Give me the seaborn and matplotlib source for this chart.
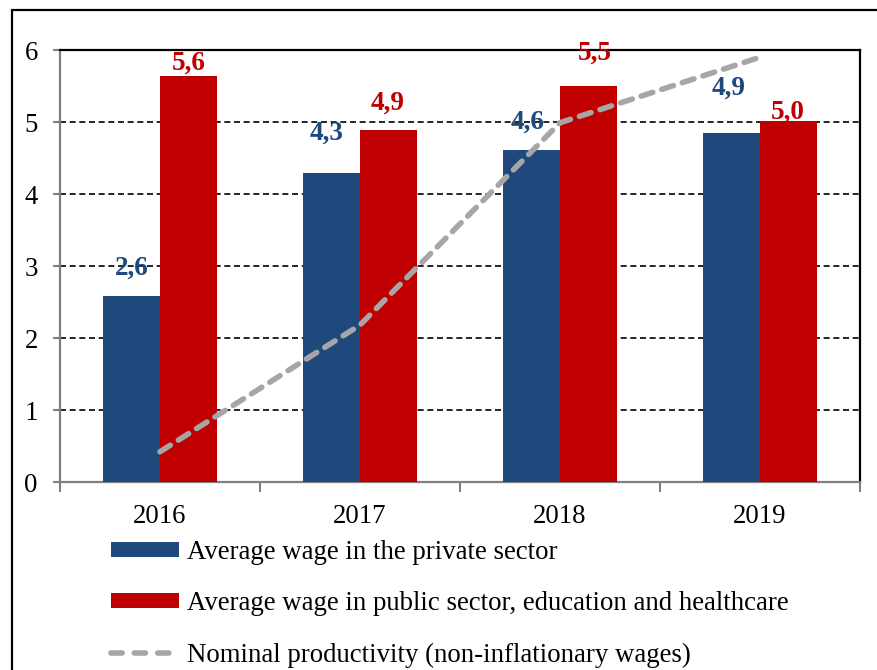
import numpy as np
import pandas as pd
import matplotlib
matplotlib.use("Agg")
import matplotlib.pyplot as plt
from matplotlib.lines import Line2D
from matplotlib.patches import Patch
import seaborn as sns

# ---- data ----
years = ["2016", "2017", "2018", "2019"]
private_wage = [2.58, 4.29, 4.61, 4.85]
public_wage = [5.64, 4.89, 5.50, 5.01]
productivity = [0.42, 2.18, 4.99, 5.90]
private_labels = ["2,6", "4,3", "4,6", "4,9"]
public_labels = ["5,6", "4,9", "5,5", "5,0"]
series_names = ["Average wage in the private sector",
                "Average wage in public sector, education and healthcare",
                "Nominal productivity (non-inflationary wages)"]
y_ticks = [0, 1, 2, 3, 4, 5, 6]

# ---- style ----
BLUE = "#1F497D"
RED = "#C00000"
GRAY = "#A6A6A6"
SPINE_GRAY = "#808080"
FONT = ["Liberation Serif", "DejaVu Serif"]
FS = 19.3

sns.set_theme(style="white")
plt.rcParams["font.family"] = FONT
plt.rcParams["text.color"] = "black"

df = pd.DataFrame({
    "year": years * 2,
    "value": private_wage + public_wage,
    "series": [series_names[0]] * 4 + [series_names[1]] * 4,
})

fig = plt.figure(figsize=(8.77, 6.70), dpi=100)
ax = fig.add_axes([60 / 877, 1 - 482 / 670, 800 / 877, 432 / 670])

sns.barplot(data=df, x="year", y="value", hue="series", palette=[BLUE, RED],
            width=0.57, dodge=True, ax=ax, linewidth=0, saturation=1, zorder=3,
            legend=False)

sns.lineplot(x=np.arange(len(years)), y=productivity, ax=ax, color=GRAY,
             linewidth=4.0, linestyle=(0, (2.2, 1.7)), dash_capstyle="round",
             zorder=5, legend=False)
if ax.get_legend() is not None:
    ax.get_legend().remove()

# value labels (manual offsets like the source)
private_off = [(0, 28), (-5, 40), (-4, 28), (-3, 45)]
public_off = [(0, 13), (-1, 27), (6, 33), (-1, 9)]
for cont, labels, offs, col in zip(ax.containers[:2], [private_labels, public_labels],
                                   [private_off, public_off], [BLUE, RED]):
    for bar, lab, (dx, dy) in zip(cont, labels, offs):
        ax.annotate(lab, xy=(bar.get_x() + bar.get_width() / 2, bar.get_height()),
                    xytext=(dx, dy), textcoords="offset pixels",
                    ha="center", va="center", fontsize=19.5, fontweight="bold",
                    color=col, family=FONT, zorder=6)

ax.set_xlim(-0.5, len(years) - 0.5)
ax.set_ylim(0, 6)
ax.set_yticks(y_ticks)
ax.set_yticklabels([str(t) for t in y_ticks])
ax.set_xlabel("")
ax.set_ylabel("")

# x ticks: boundaries as major (no labels), labels at centers as minor
ax.set_xticks(np.arange(len(years) + 1) - 0.5)
ax.set_xticklabels([""] * (len(years) + 1))
ax.set_xticks(np.arange(len(years)), minor=True)
ax.set_xticklabels(years, minor=True)
ax.tick_params(axis="x", which="major", length=7, width=1.5, color=SPINE_GRAY,
               direction="out", bottom=True)
ax.tick_params(axis="x", which="minor", length=0, pad=16, labelsize=FS,
               labelcolor="black")
ax.tick_params(axis="y", which="major", length=5, width=1.5, color=SPINE_GRAY,
               direction="out", left=True, pad=11, labelsize=FS, labelcolor="black")

ax.yaxis.grid(True, color="black", linestyle=(0, (3.6, 2.2)), linewidth=1.2, zorder=0)
ax.set_axisbelow(True)

for s in ["left", "bottom"]:
    ax.spines[s].set_color(SPINE_GRAY)
    ax.spines[s].set_linewidth(1.6)
for s in ["top", "right"]:
    ax.spines[s].set_color("black")
    ax.spines[s].set_linewidth(1.6)
    ax.spines[s].set_visible(True)

# legend
handles = [Patch(facecolor=BLUE, edgecolor="none"),
           Patch(facecolor=RED, edgecolor="none"),
           Line2D([0], [0], color=GRAY, linewidth=4.0, linestyle=(0, (2.0, 2.2)),
                  dash_capstyle="round")]
leg = fig.legend(handles, series_names, loc="upper left",
                 bbox_to_anchor=(111 / 877, 1 - 540 / 670), frameon=False,
                 handlelength=2.55, handleheight=0.48,
                 handletextpad=0.28, labelspacing=0.98, borderpad=0, borderaxespad=0,
                 prop={"family": FONT, "size": FS})
for t in leg.get_texts():
    t.set_color("black")

# figure frame (left & top visible)
fx = 12 / 877
fy = 1 - 10 / 670
fig.add_artist(Line2D([fx, fx], [0, fy], transform=fig.transFigure, color="black", linewidth=1.6))
fig.add_artist(Line2D([fx, 1], [fy, fy], transform=fig.transFigure, color="black", linewidth=1.6))

fig.savefig("out.png", dpi=100)
